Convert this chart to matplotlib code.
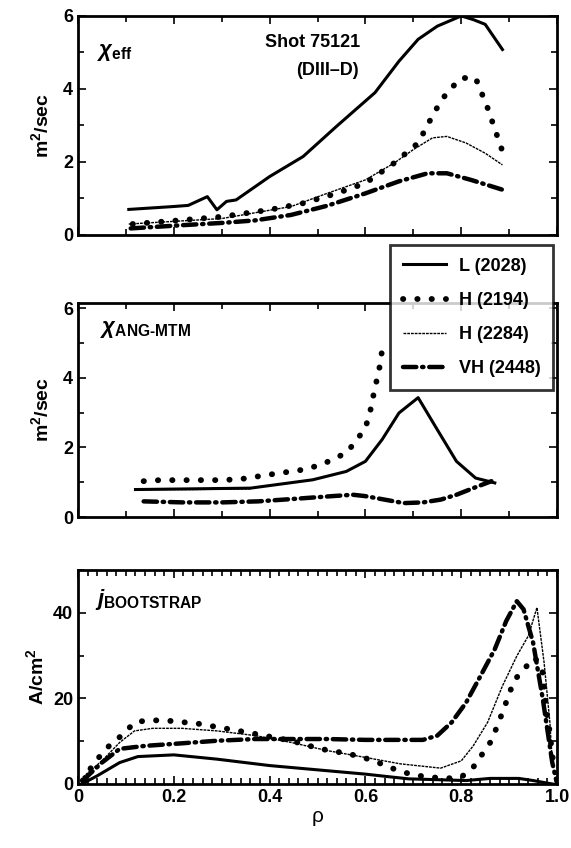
#!/usr/bin/env python3

import matplotlib
matplotlib.use("Agg")
import matplotlib.pyplot as plt
from matplotlib.ticker import MultipleLocator

plt.rcParams['font.family'] = ['Liberation Sans Narrow', 'Liberation Sans', 'DejaVu Sans']
plt.rcParams['font.weight'] = 'bold'
plt.rcParams['mathtext.fontset'] = 'custom'
plt.rcParams['mathtext.rm'] = 'Liberation Sans:bold'
plt.rcParams['mathtext.it'] = 'Liberation Sans:italic:bold'

#-------------------------------------------------------------
# data
series_names = ["L (2028)", "H (2194)", "H (2284)", "VH (2448)"]

# chi_eff
eff_L_rho = [0.106, 0.2, 0.23, 0.27, 0.29, 0.31, 0.33, 0.40, 0.47, 0.54, 0.62, 0.67, 0.71, 0.75, 0.80, 0.825, 0.85, 0.886]
eff_L_val = [0.70, 0.78, 0.81, 1.05, 0.69, 0.92, 0.96, 1.6, 2.15, 2.98, 3.9, 4.76, 5.36, 5.72, 6.0, 5.9, 5.77, 5.08]
eff_H1_rho = [0.114, 0.21, 0.30, 0.40, 0.47, 0.54, 0.60, 0.66, 0.71, 0.745, 0.77, 0.80, 0.83, 0.855, 0.886]
eff_H1_val = [0.30, 0.40, 0.50, 0.69, 0.87, 1.14, 1.42, 1.97, 2.52, 3.39, 3.9, 4.3, 4.3, 3.48, 2.29]
eff_H2_rho = [0.106, 0.30, 0.445, 0.52, 0.60, 0.66, 0.70, 0.74, 0.77, 0.81, 0.85, 0.886]
eff_H2_val = [0.30, 0.45, 0.78, 1.14, 1.51, 1.97, 2.34, 2.66, 2.70, 2.52, 2.24, 1.92]
eff_VH_rho = [0.11, 0.22, 0.30, 0.37, 0.445, 0.52, 0.60, 0.67, 0.73, 0.77, 0.82, 0.886]
eff_VH_val = [0.18, 0.27, 0.33, 0.40, 0.55, 0.80, 1.14, 1.47, 1.69, 1.69, 1.51, 1.24]

# chi_ANG-MTM
mtm_L_rho = [0.12, 0.36, 0.49, 0.56, 0.60, 0.635, 0.67, 0.71, 0.75, 0.79, 0.83, 0.87]
mtm_L_val = [0.79, 0.83, 1.07, 1.31, 1.60, 2.23, 2.99, 3.43, 2.51, 1.60, 1.12, 0.98]
mtm_H1_rho = [0.137, 0.17, 0.24, 0.30, 0.34, 0.40, 0.47, 0.51, 0.53, 0.56, 0.58, 0.60, 0.61, 0.617, 0.63, 0.635]
mtm_H1_val = [1.03, 1.06, 1.06, 1.06, 1.09, 1.22, 1.36, 1.51, 1.65, 1.84, 2.18, 2.56, 3.04, 3.52, 4.34, 4.82]
mtm_H2_rho = [0.12, 0.24, 0.36]
mtm_H2_val = [0.79, 0.79, 0.81]
mtm_VH_rho = [0.137, 0.22, 0.30, 0.376, 0.45, 0.53, 0.574, 0.60, 0.64, 0.68, 0.72, 0.757, 0.79, 0.825, 0.863]
mtm_VH_val = [0.45, 0.42, 0.42, 0.45, 0.52, 0.60, 0.64, 0.60, 0.50, 0.40, 0.42, 0.50, 0.64, 0.83, 1.03]

# j_bootstrap
bs_L_rho = [0.008, 0.04, 0.087, 0.125, 0.2, 0.29, 0.40, 0.50, 0.60, 0.64, 0.69, 0.75, 0.81, 0.86, 0.92, 0.95, 0.99]
bs_L_val = [0.0, 1.9, 5.0, 6.4, 6.8, 5.8, 4.3, 3.3, 2.3, 1.8, 1.2, 1.0, 0.8, 1.3, 1.3, 0.8, 0.0]
bs_H1_rho = [0.01, 0.034, 0.065, 0.095, 0.118, 0.148, 0.186, 0.25, 0.316, 0.37, 0.445, 0.506, 0.567, 0.62, 0.64,
             0.67, 0.70, 0.734, 0.77, 0.80, 0.825, 0.863, 0.886, 0.91, 0.93, 0.954, 0.97, 0.977, 0.985, 0.99, 0.995]
bs_H1_val = [0.8, 5.0, 8.9, 11.7, 14.4, 14.9, 14.8, 14.1, 12.8, 11.7, 10.1, 8.2, 7.0, 5.4, 4.3,
             3.1, 2.1, 1.6, 1.3, 1.6, 3.9, 10.1, 16.7, 24.1, 26.8, 29.5, 26.0, 17.5, 12.0, 6.6, 3.9]
bs_H2_rho = [0.01, 0.05, 0.087, 0.118, 0.156, 0.217, 0.29, 0.37, 0.445, 0.52, 0.60, 0.673, 0.757, 0.80, 0.825,
             0.855, 0.886, 0.916, 0.94, 0.958, 0.973, 0.985, 0.99]
bs_H2_val = [1.6, 5.4, 9.7, 12.4, 13.0, 13.0, 12.4, 11.3, 9.7, 7.8, 6.2, 4.7, 3.7, 5.4, 8.9,
             14.4, 22.9, 29.9, 34.6, 41.2, 28.3, 14.4, 5.0]
bs_VH_rho = [0.01, 0.05, 0.087, 0.14, 0.217, 0.29, 0.37, 0.445, 0.52, 0.60, 0.673, 0.72, 0.75, 0.78, 0.81,
             0.84, 0.87, 0.894, 0.916, 0.93, 0.95, 0.97, 0.99, 1.0]
bs_VH_val = [0.8, 5.0, 8.2, 8.9, 9.5, 10.1, 10.5, 10.5, 10.5, 10.3, 10.3, 10.3, 11.3, 14.4, 19.0,
             25.2, 31.5, 38.1, 42.7, 40.8, 33.0, 20.0, 5.0, 0.0]

#-------------------------------------------------------------
# line styles: solid, big dots, fine dashes, dash-dot
styles = [
    dict(color="black", lw=2.2, ls="-"),
    dict(color="black", lw=4.2, ls=(0, (0.05, 2.4)), dash_capstyle="round"),
    dict(color="black", lw=1.0, ls=(0, (2.0, 0.7))),
    dict(color="black", lw=3.2, ls=(0, (3.0, 1.3, 0.3, 1.3)), dash_capstyle="round"),
]


def styleAxes(ax, ymax, ymajor, yminor):
    ax.set_xlim(0, 1.0)
    ax.set_ylim(0, ymax)
    ax.xaxis.set_major_locator(MultipleLocator(0.2))
    ax.xaxis.set_minor_locator(MultipleLocator(0.1))
    ax.yaxis.set_major_locator(MultipleLocator(ymajor))
    ax.yaxis.set_minor_locator(MultipleLocator(yminor))
    ax.tick_params(which="both", direction="in", top=True, right=True, width=1.2)
    ax.tick_params(which="major", length=6, labelsize=13)
    ax.tick_params(which="minor", length=4)
    for sp in ax.spines.values():
        sp.set_linewidth(2.0)


fig = plt.figure(figsize=(5.71, 8.48), dpi=100)

ax1 = fig.add_axes([0.1366, 0.7229, 0.839, 0.2583])
ax2 = fig.add_axes([0.1366, 0.3903, 0.839, 0.2524])
ax3 = fig.add_axes([0.1366, 0.0755, 0.839, 0.2524])

panels = [
    (ax1, [(eff_L_rho, eff_L_val), (eff_H1_rho, eff_H1_val), (eff_H2_rho, eff_H2_val), (eff_VH_rho, eff_VH_val)]),
    (ax2, [(mtm_L_rho, mtm_L_val), (mtm_H1_rho, mtm_H1_val), (mtm_H2_rho, mtm_H2_val), (mtm_VH_rho, mtm_VH_val)]),
    (ax3, [(bs_L_rho, bs_L_val), (bs_H1_rho, bs_H1_val), (bs_H2_rho, bs_H2_val), (bs_VH_rho, bs_VH_val)]),
]

handles = []
for ax, curves in panels:
    for i, (x, y) in enumerate(curves):
        ln, = ax.plot(x, y, **styles[i])
        if ax is ax1:
            handles.append(ln)

styleAxes(ax1, 6, 2, 1)
styleAxes(ax2, 6.15, 2, 1)
styleAxes(ax3, 50, 20, 10)
ax1.set_xticklabels([])
ax2.set_xticklabels([])
ax3.set_xticks([0, 0.2, 0.4, 0.6, 0.8, 1.0])
ax3.set_xticklabels(["0", "0.2", "0.4", "0.6", "0.8", "1.0"])
ax3.xaxis.set_minor_locator(MultipleLocator(0.02))

ax1.set_ylabel("m$^2$/sec", fontsize=14, fontweight="bold", labelpad=8)
ax2.set_ylabel("m$^2$/sec", fontsize=14, fontweight="bold", labelpad=8)
ax3.set_ylabel("A/cm$^2$", fontsize=14, fontweight="bold", labelpad=4)
ax3.set_xlabel("ρ", fontsize=15, labelpad=1)

ax1.text(0.04, 0.835, r"$\chi_{\rm eff}$", transform=ax1.transAxes, fontsize=16, va="center")
ax1.text(0.49, 0.88, "Shot 75121", transform=ax1.transAxes, fontsize=13, va="center", ha="center")
ax1.text(0.52, 0.75, "(DIII–D)", transform=ax1.transAxes, fontsize=13, va="center", ha="center")
ax2.text(0.045, 0.875, r"$\chi_{\rm ANG\text{-}MTM}$", transform=ax2.transAxes, fontsize=16, va="center")
ax3.text(0.035, 0.86, r"$j_{\rm BOOTSTRAP}$", transform=ax3.transAxes, fontsize=16, va="center")

leg = fig.legend(handles, series_names, loc="upper left", bbox_to_anchor=(0.683, 0.711),
                 borderaxespad=0.0, fontsize=13, frameon=True, fancybox=False, edgecolor="black",
                 handlelength=2.4, labelspacing=0.95, borderpad=0.7, handletextpad=0.7)
leg.get_frame().set_linewidth(2.0)
leg.set_zorder(10)

fig.savefig("out.png", dpi=100)
plt.close(fig)
